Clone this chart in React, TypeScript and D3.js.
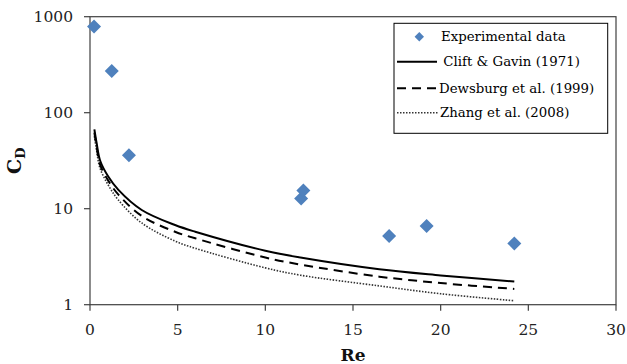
import React from 'react';
import * as d3 from 'd3';

// Experimental data points
const expRe = [0.23, 1.24, 2.22, 12.04, 12.17, 17.06, 19.2, 24.2];
const expCd = [790, 272, 36, 12.8, 15.5, 5.2, 6.6, 4.35];

// Correlation curves
const curveRe = [0.25, 0.38, 0.57, 1.05, 1.62, 2.95, 4.85, 6, 10, 12, 16.5, 20, 24.2];
const cliftCd = [67, 48, 32, 21.5, 15.7, 9.7, 6.76, 5.76, 3.65, 3.1, 2.34, 2.02, 1.74];
const dewsburgCd = [62, 44, 29, 19.5, 14, 8.4, 5.75, 4.92, 3.1, 2.62, 1.96, 1.68, 1.46];
const zhangCd = [57, 40, 26.5, 17.5, 12.3, 7.1, 4.6, 3.87, 2.42, 2.03, 1.57, 1.3, 1.1];

const xTicks = [0, 5, 10, 15, 20, 25, 30];
const yTicks = [1, 10, 100, 1000];

const legendLabels = ['Experimental data', 'Clift & Gavin (1971)', 'Dewsburg et al. (1999)', 'Zhang et al. (2008)'];

const W = 627;
const H = 364;
const left = 90;
const right = 616;
const top = 16.7;
const bottom = 304.7;

const serif = '"DejaVu Serif", serif';
const axisColor = '#404040';
const textColor = '#222';
const blue = '#4F81BD';

export default function App() {
  const x = d3.scaleLinear().domain([0, 30]).range([left, right]);
  const y = d3.scaleLog().domain([1, 1000]).range([bottom, top]);

  const line = (vals: number[]) =>
    d3
      .line<number>()
      .x((_, i) => x(curveRe[i]))
      .y((v) => y(v))
      .curve(d3.curveCatmullRom.alpha(0.5))(vals) as string;

  const diamond = (s: number) => `M0,${-s}L${s},0L0,${s}L${-s},0Z`;

  const lg = { x: 394, y: 23.3, w: 213.7, h: 110 };
  const rows = [36.7, 61.7, 88.3, 112.7];

  return (
    <svg
      width={W}
      height={H}
      style={{ position: 'absolute', left: 0, top: 0, background: '#fff' }}
    >
      {/* plot frame */}
      <rect x={left} y={top} width={right - left} height={bottom - top} fill="none" stroke={axisColor} strokeWidth={1.2} />

      {/* y ticks */}
      {yTicks.map((t) => (
        <g key={'y' + t}>
          <line x1={left - 6} x2={left} y1={y(t)} y2={y(t)} stroke={axisColor} strokeWidth={1.2} />
          <text x={73} y={y(t)} dy="0.35em" textAnchor="end" fontFamily={serif} fontSize={15.5} fill={textColor}>
            {t}
          </text>
        </g>
      ))}

      {/* x ticks */}
      {xTicks.map((t) => (
        <g key={'x' + t}>
          <line x1={x(t)} x2={x(t)} y1={bottom} y2={bottom + 6} stroke={axisColor} strokeWidth={1.2} />
          <text x={x(t)} y={330} dy="0.35em" textAnchor="middle" fontFamily={serif} fontSize={15.5} fill={textColor}>
            {t}
          </text>
        </g>
      ))}

      {/* axis titles */}
      <text x={353} y={361} textAnchor="middle" fontFamily={serif} fontSize={17} fontWeight="bold" fill="#111">
        Re
      </text>
      <text
        transform={`translate(21,${(top + bottom) / 2}) rotate(-90)`}
        textAnchor="middle"
        fontFamily={serif}
        fontSize={19}
        fontWeight="bold"
        fill="#111"
      >
        C<tspan fontSize={13} dy={4}>D</tspan>
      </text>

      {/* curves */}
      <path d={line(zhangCd)} fill="none" stroke="#333" strokeWidth={1.6} strokeDasharray="1.5,1.5" />
      <path d={line(dewsburgCd)} fill="none" stroke="#000" strokeWidth={2} strokeDasharray="9,6" />
      <path d={line(cliftCd)} fill="none" stroke="#000" strokeWidth={2} />

      {/* experimental points */}
      {expRe.map((r, i) => (
        <path key={'p' + i} d={diamond(7)} transform={`translate(${x(r)},${y(expCd[i])})`} fill={blue} />
      ))}

      {/* legend */}
      <rect x={lg.x} y={lg.y} width={lg.w} height={lg.h} fill="#fff" stroke="#000" strokeWidth={1} />
      <path d={diamond(4.7)} transform={`translate(419.3,${rows[0]})`} fill={blue} />
      <line x1={397} x2={437} y1={rows[1]} y2={rows[1]} stroke="#000" strokeWidth={2} />
      <line x1={397} x2={440} y1={rows[2]} y2={rows[2]} stroke="#000" strokeWidth={2} strokeDasharray="9,6" />
      <line x1={397} x2={438} y1={rows[3]} y2={rows[3]} stroke="#333" strokeWidth={1.5} strokeDasharray="1.5,1.5" />
      {[441, 443.3, 439, 440].map((tx, i) => (
        <text key={'l' + i} x={tx} y={rows[i]} dy="0.35em" fontFamily={serif} fontSize={13.3} fill="#000">
          {legendLabels[i]}
        </text>
      ))}
    </svg>
  );
}
